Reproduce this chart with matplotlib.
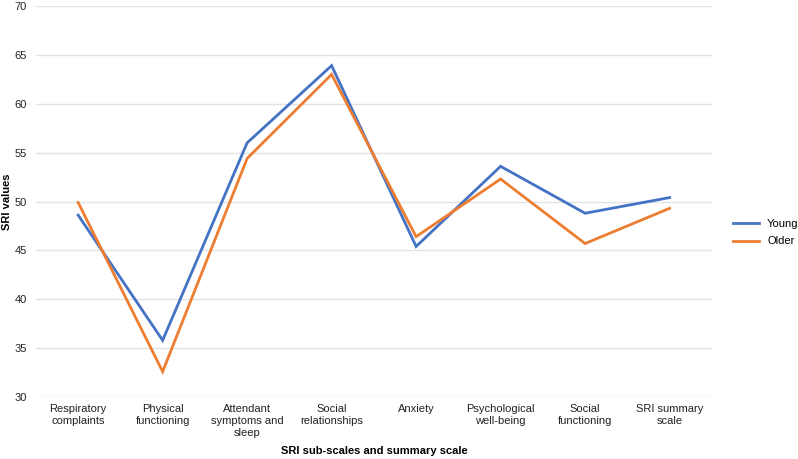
import matplotlib
matplotlib.use("Agg")
import matplotlib.pyplot as plt

categories = ["Respiratory\ncomplaints", "Physical\nfunctioning", "Attendant\nsymptoms and\nsleep",
              "Social\nrelationships", "Anxiety", "Psychological\nwell-being",
              "Social\nfunctioning", "SRI summary\nscale"]
young = [48.6, 35.8, 56.0, 63.9, 45.4, 53.6, 48.8, 50.4]
older = [49.9, 32.6, 54.4, 63.0, 46.4, 52.3, 45.7, 49.3]
yticks = [30, 35, 40, 45, 50, 55, 60, 65, 70]

plt.rcParams['font.family'] = ['Liberation Sans', 'DejaVu Sans']

fig = plt.figure(figsize=(7.98, 4.59), dpi=100)
ax = fig.add_axes([0.045, 0.135, 0.847, 0.852])

x = list(range(len(categories)))
ax.plot(x, young, color='#4472C4', lw=2.0, label='Young', solid_joinstyle='miter')
ax.plot(x, older, color='#ED7D31', lw=2.0, label='Older', solid_joinstyle='miter')

ax.set_xlim(-0.5, len(categories) - 0.5)
ax.set_ylim(30, 70)
ax.set_yticks(yticks)
ax.set_xticks(x)
ax.set_xticklabels(categories, fontsize=8, color='#222222', linespacing=1.25)
ax.tick_params(axis='y', labelsize=8, colors='#222222', length=0, pad=6.5)
ax.tick_params(axis='x', length=0, pad=5)
ax.grid(axis='y', color='#e3e3e3', lw=1)
ax.set_axisbelow(True)
for s in ax.spines.values():
    s.set_visible(False)

ax.set_ylabel('SRI values', fontsize=8, fontweight='bold')
ax.yaxis.set_label_coords(-0.036, 0.5)
ax.set_xlabel('SRI sub-scales and summary scale', fontsize=8, fontweight='bold')
ax.xaxis.set_label_coords(0.5, -0.125)

ax.legend(loc='center left', bbox_to_anchor=(1.025, 0.42), frameon=False, fontsize=8,
          handlelength=2.35, handletextpad=0.7, labelspacing=0.65, borderaxespad=0.0)

fig.savefig('out.png', dpi=100)
